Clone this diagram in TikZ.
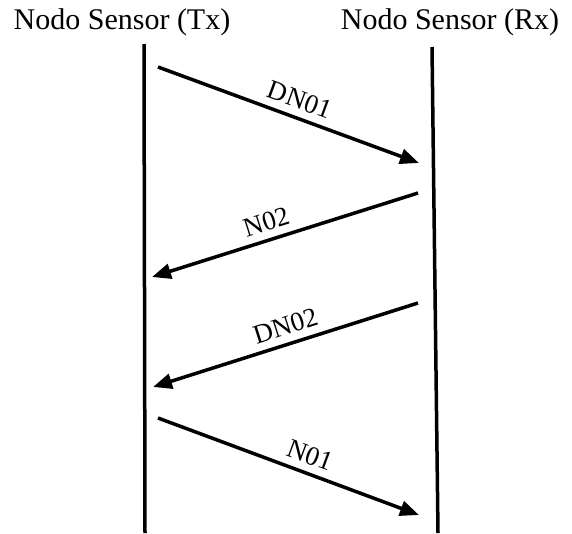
\documentclass[tikz,border=0pt]{standalone}
\usepackage{fontspec}
\setmainfont{Liberation Serif}
\usetikzlibrary{arrows.meta, positioning}

\begin{document}
\begin{tikzpicture}[x=1pt, y=-1pt,
      title/.style={font=\fontsize{30}{36}\selectfont, inner sep=0pt},
      life/.style={line width=3.5pt},
      msg/.style={-{Triangle[length=19pt,width=15pt]}, line width=3.5pt},
      lbl/.style={font=\fontsize{27}{32}\selectfont, sloped, above=4pt}]

    \useasboundingbox (0,0) rectangle (572,533);

    % lifelines
    \node[title] (tx) at (122,22) {Nodo Sensor (Tx)};
    \node[title] (rx) at (450,22) {Nodo Sensor (Rx)};

    \coordinate (txtop) at (144,44);
    \coordinate (txbot) at (145,533);
    \coordinate (rxtop) at (432,47);
    \coordinate (rxbot) at (438,533);

    \draw[life] (txtop) -- (txbot);
    \draw[life] (rxtop) -- (rxbot);

    % messages
    \coordinate (a1) at (158,67);  \coordinate (b1) at (419,163);
    \coordinate (a2) at (418,193); \coordinate (b2) at (152,277);
    \coordinate (a3) at (418,303); \coordinate (b3) at (153,387);
    \coordinate (a4) at (158,418); \coordinate (b4) at (419,515);

    \draw[msg] (a1) -- node[lbl, pos=0.52] (m1) {DN01} (b1);
    \draw[msg] (a2) -- node[lbl, pos=0.55] (m2) {N02} (b2);
    \draw[msg] (a3) -- node[lbl, pos=0.48] (m3) {DN02} (b3);
    \draw[msg] (a4) -- node[lbl, pos=0.56] (m4) {N01} (b4);
\end{tikzpicture}
\end{document}
